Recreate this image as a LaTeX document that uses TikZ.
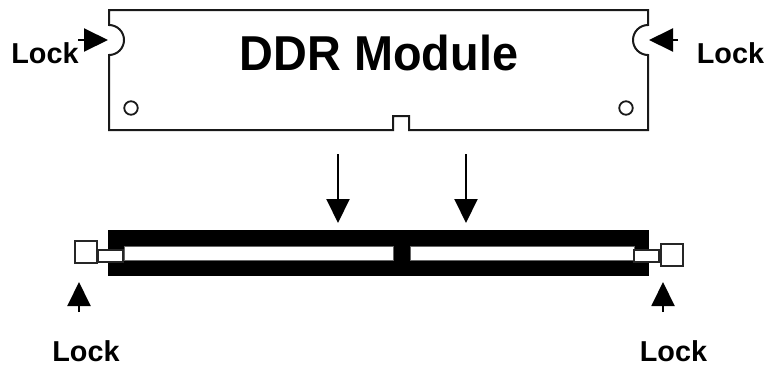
\documentclass[tikz,border=0pt]{standalone}
\usepackage{fontspec}
\setmainfont{Liberation Sans}
\usetikzlibrary{arrows.meta}
\tikzset{
  lockword/.style={inner sep=0pt,anchor=base,font=\fontsize{28.8}{30}\selectfont\bfseries},
  titleword/.style={inner sep=0pt,anchor=base,font=\fontsize{49}{50}\selectfont\bfseries},
  outline/.style={draw=black!90,line width=2pt,line join=miter},
  thinbox/.style={draw=black!85,line width=2.2pt,fill=white,inner sep=0pt,anchor=north west},
  bigarrow/.style={black,line width=2pt,-{Triangle[length=24pt,width=23pt]}},
  holemark/.style={circle,draw=black!90,line width=1.8pt,minimum size=13.5pt,inner sep=0pt},
  slot/.style={fill=white,draw=black!60,line width=0.5pt}
}
\begin{document}
\begin{tikzpicture}[x=1pt,y=-1pt]
\useasboundingbox (0,0) rectangle (770,370);
% module outline
\draw[outline] (109,10) -- (648,10) -- (648,25)
  arc[start angle=90,end angle=270,radius=15pt] -- (648,55) -- (648,130)
  -- (409,130) -- (409,116) -- (393,116) -- (393,130) -- (109,130) -- (109,55)
  arc[start angle=-90,end angle=90,radius=15pt] -- (109,25) -- cycle;
\node[holemark] (holeL) at (131,108) {};
\node[holemark] (holeR) at (626,108) {};
\node[titleword] (title) at (379,70) {\scalebox{0.955}[1]{DDR Module}};
% socket
\fill[black] (108,230) rectangle (649,276);
\fill[slot] (124,246) rectangle (393,260);
\fill[slot] (410,246) rectangle (634,260);
\node[thinbox,minimum width=25pt,minimum height=12pt] (latchL) at (97,249) {};
\node[thinbox,minimum width=22pt,minimum height=22pt] (boxL) at (73.5,239.5) {};
\node[thinbox,minimum width=25pt,minimum height=12pt] (latchR) at (633,249) {};
\node[thinbox,minimum width=22pt,minimum height=22pt] (boxR) at (659.5,243) {};
% labels
\node[lockword] (lockTL) at (45,63) {Lock};
\node[lockword] (lockTR) at (730.5,63) {Lock};
\node[lockword] (lockBL) at (86,361) {Lock};
\node[lockword] (lockBR) at (673.5,361) {Lock};
% arrow ends
\coordinate (a1s) at (338,154); \coordinate (a1e) at (338,223);
\coordinate (a2s) at (466,154); \coordinate (a2e) at (466,223);
\coordinate (a3s) at (78,40);   \coordinate (a3e) at (108,40);
\coordinate (a4s) at (678,40);  \coordinate (a4e) at (649,40);
\coordinate (a5s) at (79,312);  \coordinate (a5e) at (79,282);
\coordinate (a6s) at (663,312); \coordinate (a6e) at (663,282);
\draw[bigarrow] (a1s) -- (a1e);
\draw[bigarrow] (a2s) -- (a2e);
\draw[bigarrow] (a3s) -- (a3e);
\draw[bigarrow] (a4s) -- (a4e);
\draw[bigarrow] (a5s) -- (a5e);
\draw[bigarrow] (a6s) -- (a6e);
\end{tikzpicture}
\end{document}
